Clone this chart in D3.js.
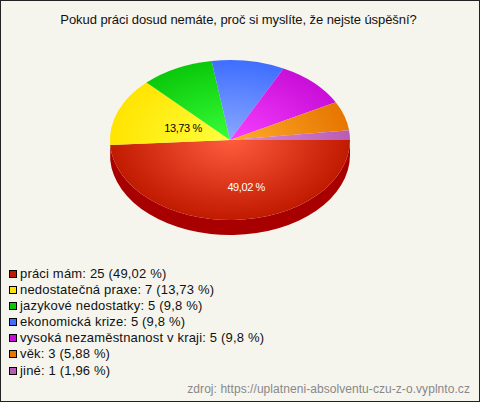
<!DOCTYPE html>
<html><head><meta charset="utf-8">
<script src="https://cdnjs.cloudflare.com/ajax/libs/d3/7.8.5/d3.min.js"></script>
<style>html,body{margin:0;padding:0;background:#f5f5ee}svg{display:block}text{font-family:"Liberation Sans",Arial,sans-serif}</style>
</head><body><svg id="c" width="480" height="402"></svg>
<script>
const categories=["práci mám","nedostatečná praxe","jazykové nedostatky","ekonomická krize","vysoká nezaměstnanost v kraji","věk","jiné"];
const values=[25,7,5,5,5,3,1];
const percents=["49,02","13,73","9,8","9,8","9,8","5,88","1,96"];
const innerColors=["#ff5c3e","#ffff40","#38ff38","#8aa8ff","#f840ff","#ffac2c","#dc8edc"];
const outerColors=["#c01a00","#ffe400","#0ac80a","#3f6eff","#c80ed8","#e67600","#ba5cb4"];
const sideColors=["#a80000"];
const pieLabels=[0,1];
const title="Pokud práci dosud nemáte, proč si myslíte, že nejste úspěšní?";
const source="zdroj: https://uplatneni-absolventu-czu-z-o.vyplnto.cz";

const cx=230,cy=140,rx=120,ry=80,depth=15;
const svg=d3.select("#c");
svg.append("rect").attr("x",.5).attr("y",.5).attr("width",479).attr("height",401).attr("fill","#f5f5ee").attr("stroke","#222");
svg.append("text").attr("x",238.5).attr("y",24).attr("text-anchor","middle").attr("font-size",13).attr("letter-spacing",-0.07).attr("fill","#111").text(title);

const defs=svg.append("defs");
values.forEach((v,i)=>{
  const g=defs.append("radialGradient").attr("id","g"+i).attr("gradientUnits","userSpaceOnUse").attr("cx",0).attr("cy",0).attr("r",rx);
  g.append("stop").attr("offset",0).attr("stop-color",innerColors[i]);
  g.append("stop").attr("offset",1).attr("stop-color",outerColors[i]);
});
// start at 3 o'clock, clockwise
const pie=d3.pie().sort(null).value(d=>d).startAngle(Math.PI/2).endAngle(Math.PI*2.5);
const arcs=pie(values);
const arc=d3.arc().innerRadius(0).outerRadius(rx);

// side wall
const a0=arcs[0];
const pt=a=>[cx+rx*Math.sin(a),cy-ry*Math.cos(a)];
const [sx,sy]=pt(a0.startAngle),[ex,ey]=pt(a0.endAngle);
svg.append("path").attr("fill",sideColors[0])
 .attr("d",`M${sx},${sy}A${rx},${ry} 0 0 1 ${ex},${ey}L${ex},${ey+depth}A${rx},${ry} 0 0 0 ${sx},${sy+depth}Z`);

const pg=svg.append("g").attr("transform",`translate(${cx},${cy}) scale(1,${ry/rx})`);
pg.selectAll("path").data(arcs).join("path").attr("d",arc).attr("fill",(d,i)=>`url(#g${i})`);

// labels
pieLabels.forEach(i=>{
  const a=arcs[i],m=(a.startAngle+a.endAngle)/2;
  const f=i==0?0.59:0.42, dx=i==0?14:0;
  const p=pt(m);
  svg.append("text").attr("x",cx+(p[0]-cx)*f+dx).attr("y",cy+(p[1]-cy)*f)
   .attr("dy",4).attr("text-anchor","middle").attr("font-size",11).attr("letter-spacing",-0.4)
   .attr("fill",i==0?"#fff":"#000").text(percents[i]+" %");
});

// legend
const yL=d3.scalePoint().domain(categories).range([272.5,369.5]);
const lg=svg.append("g").selectAll("g").data(categories).join("g").attr("transform",d=>`translate(0,${Math.round(yL(d))})`);
lg.append("rect").attr("x",9.5).attr("y",-2.5).attr("width",7).attr("height",7).attr("fill",(d,i)=>outerColors[i]).attr("stroke","#000").attr("stroke-width",1);
lg.append("text").attr("x",20).attr("y",5).attr("font-size",13).attr("letter-spacing",0.18).attr("fill","#111")
 .text((d,i)=>`${d}: ${values[i]} (${percents[i]} %)`);

svg.append("text").attr("x",470).attr("y",393).attr("text-anchor","end").attr("font-size",12).attr("letter-spacing",0.06).attr("fill","#888").text(source);
</script></body></html>
